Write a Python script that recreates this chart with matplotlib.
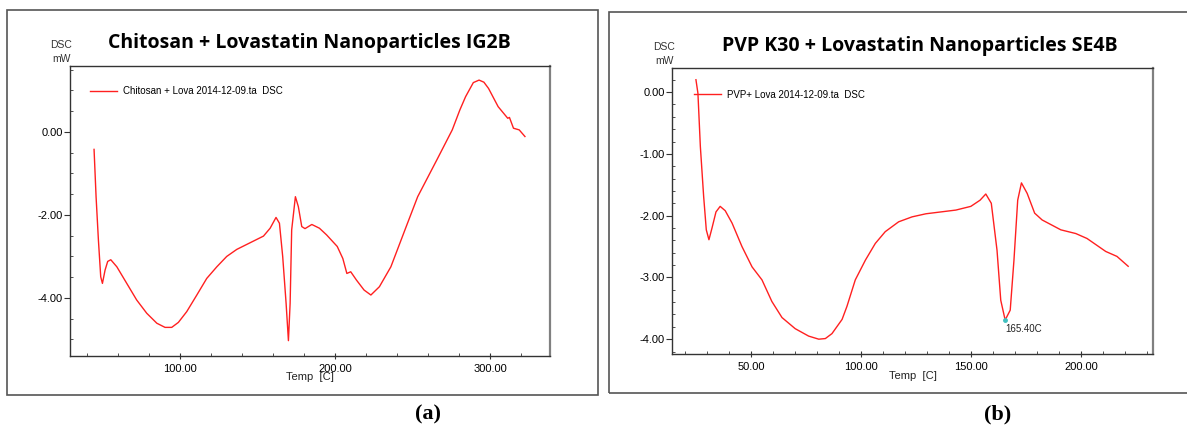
import matplotlib.pyplot as plt
from matplotlib.ticker import MultipleLocator, FormatStrFormatter
from matplotlib.patches import Rectangle

# Panel (a): Chitosan + Lovastatin nanoparticles IG2B
temp_a = [44.5, 45.8, 47.3, 48.8, 49.9, 51.6, 53.3, 55.3, 59.2, 65.6, 72.0,
          78.5, 85.0, 90.3, 94.6, 98.9, 104.3, 110.8, 117.2, 123.7, 130.1,
          136.6, 145.2, 153.8, 158.1, 161.9, 164.1, 166.2, 168.4, 169.9, 171.0,
          172.0, 174.4, 176.3, 178.5, 180.6, 185.0, 189.9, 194.5, 201.4, 205.0,
          207.6, 210.1, 213.8, 218.7, 223.1, 228.6, 236.0, 245.9, 253.3, 265.7,
          275.6, 280.5, 284.2, 289.2, 292.9, 296.0, 299.0, 305.2, 311.4, 312.5,
          315.1, 318.8, 322.5]
dsc_a = [-0.42, -1.56, -2.60, -3.49, -3.65, -3.33, -3.12, -3.08, -3.25, -3.65, -4.05,
         -4.37, -4.61, -4.71, -4.71, -4.59, -4.33, -3.93, -3.53, -3.25, -3.00,
         -2.83, -2.67, -2.51, -2.32, -2.06, -2.20, -3.00, -4.13, -5.03, -4.13,
         -2.36, -1.56, -1.80, -2.28, -2.33, -2.23, -2.32, -2.48, -2.76, -3.05,
         -3.41, -3.37, -3.57, -3.81, -3.93, -3.73, -3.25, -2.28, -1.56, -0.67,
         0.05, 0.53, 0.85, 1.19, 1.25, 1.20, 1.05, 0.61, 0.33, 0.35,
         0.09, 0.05, -0.11]

# Panel (b): PVP K30 + Lovastatin nanoparticles SE4B
temp_b = [25.0, 25.9, 27.0, 28.5, 29.7, 30.9, 32.3, 34.1, 36.0, 38.3, 41.4,
          45.9, 50.5, 55.0, 59.5, 64.1, 70.1, 76.2, 80.8, 83.8, 86.8, 91.4,
          93.6, 97.4, 102.0, 106.5, 111.0, 117.1, 123.2, 129.5, 143.1, 149.9,
          154.1, 156.7, 159.2, 161.8, 163.5, 165.5, 167.8, 169.5, 171.2, 172.9,
          175.5, 178.9, 182.3, 190.8, 197.6, 202.7, 211.2, 216.3, 221.4]
dsc_b = [0.20, -0.02, -0.88, -1.69, -2.23, -2.39, -2.20, -1.94, -1.85, -1.92, -2.12,
         -2.50, -2.83, -3.04, -3.39, -3.65, -3.83, -3.95, -4.00, -3.99, -3.91, -3.68,
         -3.47, -3.04, -2.72, -2.45, -2.26, -2.10, -2.02, -1.97, -1.91, -1.85,
         -1.75, -1.65, -1.80, -2.56, -3.37, -3.69, -3.53, -2.72, -1.75, -1.47,
         -1.64, -1.96, -2.07, -2.23, -2.29, -2.37, -2.58, -2.66, -2.82]
peak_b = (165.5, -3.69)

fig = plt.figure(figsize=(11.87, 4.26), dpi=100)
plt.rcParams['font.family'] = ['Liberation Sans', 'DejaVu Sans']

# outer frames around each panel
fig.patches.append(Rectangle((0.0055, 0.0728), 0.4983, 0.9037, transform=fig.transFigure,
                             fill=False, edgecolor='#555555', lw=1.2))
fig.patches.append(Rectangle((0.513, 0.0775), 0.6, 0.894, transform=fig.transFigure,
                             fill=False, edgecolor='#555555', lw=1.2))

ax_a = fig.add_axes([0.0590, 0.1643, 0.4044, 0.6808])
ax_b = fig.add_axes([0.5661, 0.1690, 0.4053, 0.6714])


def style_axes(ax):
    for side in ['left', 'bottom', 'top']:
        ax.spines[side].set_color('#333333')
        ax.spines[side].set_linewidth(1.0)
    ax.spines['right'].set_color('#808080')
    ax.spines['right'].set_linewidth(1.6)
    ax.tick_params(which='major', axis='y', direction='out', length=4, color='#333333',
                   labelsize=8, pad=1)
    ax.tick_params(which='major', axis='x', direction='inout', length=5, color='#333333',
                   labelsize=8, pad=3)
    ax.tick_params(which='minor', direction='in', length=2.5, color='#333333')
    ax.xaxis.set_major_formatter(FormatStrFormatter('%.2f'))
    ax.yaxis.set_major_formatter(FormatStrFormatter('%.2f'))


# (a)
ax_a.plot(temp_a, dsc_a, color='#ff2020', lw=1.0,
          label='Chitosan + Lova 2014-12-09.ta  DSC')
ax_a.set_xlim(29, 338.7)
ax_a.set_ylim(-5.40, 1.59)
ax_a.xaxis.set_major_locator(MultipleLocator(100))
ax_a.xaxis.set_minor_locator(MultipleLocator(20))
ax_a.yaxis.set_major_locator(MultipleLocator(2))
ax_a.yaxis.set_minor_locator(MultipleLocator(0.5))
style_axes(ax_a)
ax_a.legend(loc='center left', bbox_to_anchor=(0.042, 0.914), frameon=False,
            fontsize=7, handlelength=2.8, handletextpad=0.6, borderpad=0, borderaxespad=0)

# (b)
ax_b.plot(temp_b, dsc_b, color='#ff2020', lw=1.0,
          label='PVP+ Lova 2014-12-09.ta  DSC')
ax_b.set_xlim(14.1, 232.7)
ax_b.set_ylim(-4.24, 0.39)
ax_b.xaxis.set_major_locator(MultipleLocator(50))
ax_b.xaxis.set_minor_locator(MultipleLocator(10))
ax_b.yaxis.set_major_locator(MultipleLocator(1))
ax_b.yaxis.set_minor_locator(MultipleLocator(0.2))
style_axes(ax_b)
ax_b.legend(loc='center left', bbox_to_anchor=(0.046, 0.906), frameon=False,
            fontsize=7, handlelength=2.8, handletextpad=0.6, borderpad=0, borderaxespad=0)
ax_b.plot(*peak_b, marker='o', ms=2.5, color='#40c0c0', zorder=3)
ax_b.annotate('165.40C', peak_b, xytext=(0, -3), textcoords='offset points',
              fontsize=7, ha='left', va='top', color='#222222')

# titles and axis captions
fig.text(0.261, 0.898, 'Chitosan + Lovastatin Nanoparticles IG2B', fontsize=14,
         fontweight='bold', family='Open Sans', ha='center', va='center')
fig.text(0.775, 0.893, 'PVP K30 + Lovastatin Nanoparticles SE4B', fontsize=14,
         fontweight='bold', family='Open Sans', ha='center', va='center')
for x, y in [(0.0514, 0.894), (0.5594, 0.889)]:
    fig.text(x, y, 'DSC', fontsize=7.5, color='#333333', ha='center', va='center')
    fig.text(x, y - 0.033, 'mW', fontsize=7.5, color='#333333', ha='center', va='center')
fig.text(0.261, 0.115, 'Temp  [C]', fontsize=8, color='#222222', ha='center', va='center')
fig.text(0.769, 0.117, 'Temp  [C]', fontsize=8, color='#222222', ha='center', va='center')

# panel letters
fig.text(0.3606, 0.028, '(a)', fontsize=16, fontweight='bold', family='Liberation Serif',
         ha='center', va='center')
fig.text(0.8408, 0.028, '(b)', fontsize=16, fontweight='bold', family='Liberation Serif',
         ha='center', va='center')

fig.savefig('out.png', dpi=100)
